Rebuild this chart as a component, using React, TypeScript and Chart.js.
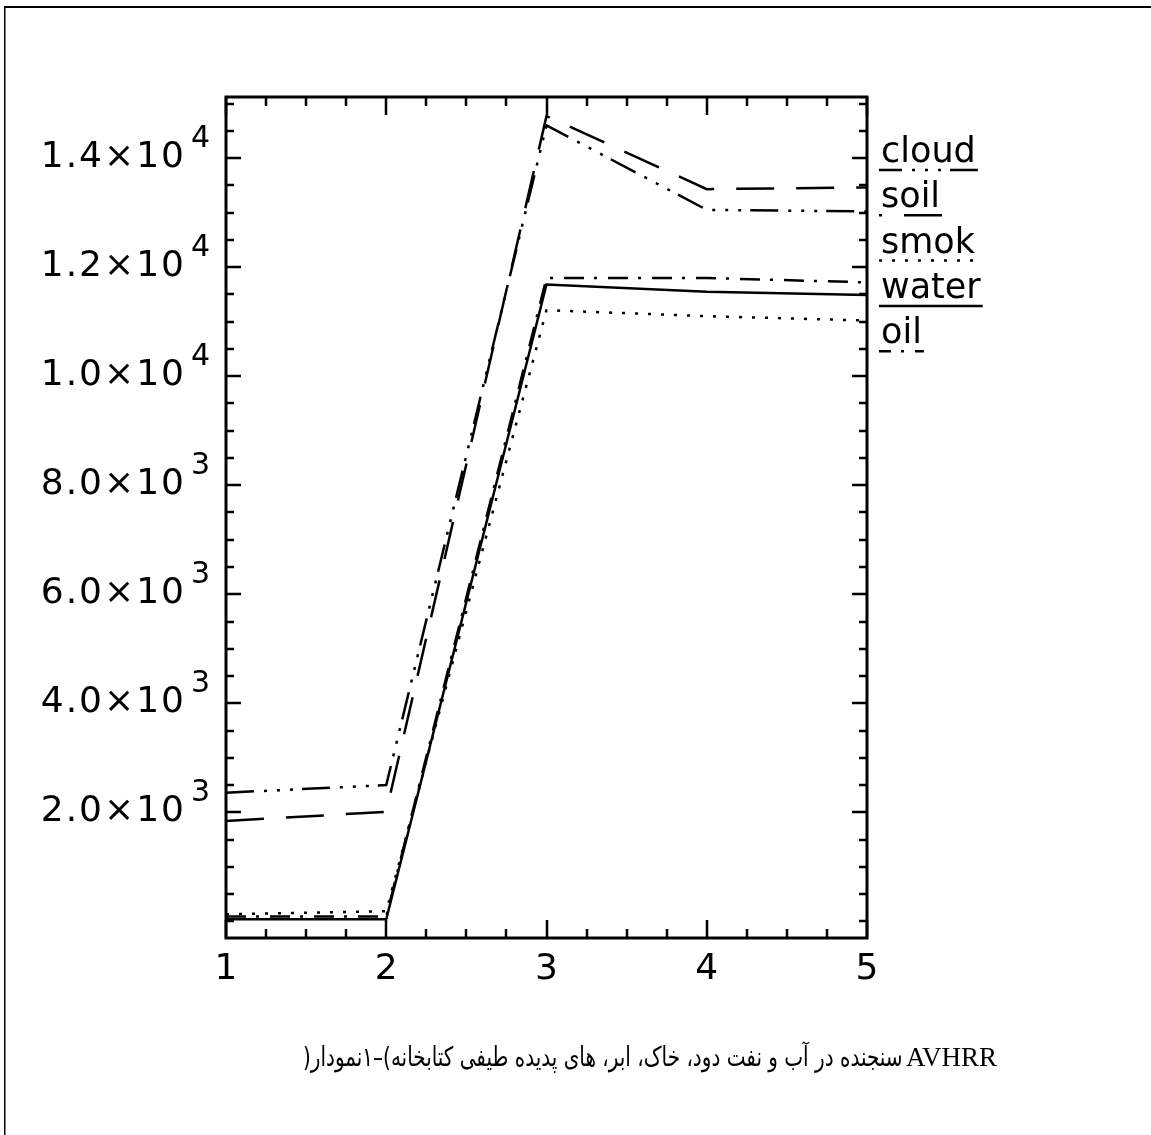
import React, { useEffect, useRef } from "react";
import { Chart, registerables } from "chart.js";

Chart.register(...registerables);

// ---------- data ----------
const xValues = [1, 2, 3, 4, 5];
const xTickLabels = ["1", "2", "3", "4", "5"];
const seriesNames = ["cloud", "soil", "smok", "water", "oil"];
const cloudValues = [2360, 2500, 14600, 13050, 13020];
const soilValues = [1840, 2010, 14770, 13430, 13460];
const smokValues = [130, 185, 11210, 11100, 11020];
const waterValues = [40, 40, 11680, 11550, 11490];
const oilValues = [90, 90, 11800, 11800, 11720];
const yLabelValues = [2000, 4000, 6000, 8000, 10000, 12000, 14000];
const yMin = -305;
const yMax = 15120;
const xMinorStep = 0.25;
const yMinorStep = 500;

const captionPersianChunks = [
  "(", "نمودار", "–۱", ")", "کتابخانه", " ", "طیفی", " ", "پدیده", " ", "های", " ",
  "ابر،", " ", "خاک،", " ", "دود،", " ", "نفت", " ", "و", " ", "آب", " ", "در", " ",
  "سنجنده",
];
const captionLatin = "AVHRR";

// ---------- styles ----------
const dashes: Record<string, number[]> = {
  cloud: [28, 10, 3, 10, 3, 10, 3, 9],
  soil: [38, 22],
  smok: [3, 10],
  water: [],
  oil: [20, 10, 3, 11],
};
const legendDashOffset: Record<string, number> = {
  cloud: 5,
  soil: 35,
  smok: 0,
  water: 0,
  oil: 8,
};
const seriesValues: Record<string, number[]> = {
  cloud: cloudValues,
  soil: soilValues,
  smok: smokValues,
  water: waterValues,
  oil: oilValues,
};

const W = 1151;
const H = 1135;
const FONT = '"DejaVu Sans", "Liberation Sans", sans-serif';

const decorPlugin = {
  id: "decor",
  beforeDraw(chart: any) {
    const ctx = chart.ctx as CanvasRenderingContext2D;
    ctx.save();
    ctx.fillStyle = "#fff";
    ctx.fillRect(0, 0, chart.width, chart.height);
    // document frame
    ctx.fillStyle = "#000";
    ctx.fillRect(4, 6, chart.width - 4, 2);
    ctx.fillRect(4, 6, 1.5, chart.height - 6);
    ctx.restore();
  },
  afterDatasetsDraw(chart: any) {
    const ctx = chart.ctx as CanvasRenderingContext2D;
    const a = chart.chartArea;
    const xs = chart.scales.x;
    const ys = chart.scales.y;
    ctx.save();
    ctx.strokeStyle = "#000";
    ctx.fillStyle = "#000";
    ctx.setLineDash([]);
    // plot frame
    ctx.lineWidth = 3;
    ctx.strokeRect(a.left, a.top, a.right - a.left, a.bottom - a.top);
    // x ticks (inward, bottom and top)
    ctx.lineWidth = 2.5;
    const xmin = xs.min, xmax = xs.max;
    for (let v = xmin; v <= xmax + 1e-9; v += xMinorStep) {
      const px = Math.round(xs.getPixelForValue(v));
      const major = Math.abs(v - Math.round(v)) < 1e-6;
      const len = major ? 18 : 9;
      ctx.beginPath();
      ctx.moveTo(px, a.bottom);
      ctx.lineTo(px, a.bottom - len);
      ctx.moveTo(px, a.top);
      ctx.lineTo(px, a.top + len);
      ctx.stroke();
    }
    // y ticks (inward, left and right)
    const yStart = Math.ceil(ys.min / yMinorStep) * yMinorStep;
    for (let v = yStart; v <= ys.max; v += yMinorStep) {
      const py = Math.round(ys.getPixelForValue(v));
      const major = yLabelValues.includes(v);
      const len = major ? 15 : 8;
      ctx.beginPath();
      ctx.moveTo(a.left, py);
      ctx.lineTo(a.left + len, py);
      ctx.moveTo(a.right, py);
      ctx.lineTo(a.right - len, py);
      ctx.stroke();
    }
    // y labels  m.m×10^e
    for (const v of yLabelValues) {
      const e = Math.floor(Math.log10(v));
      const m = (v / Math.pow(10, e)).toFixed(1);
      const py = ys.getPixelForValue(v);
      (ctx as any).letterSpacing = "2px";
      ctx.font = `36px ${FONT}`;
      ctx.textAlign = "right";
      ctx.textBaseline = "alphabetic";
      ctx.fillText(`${m}×10`, a.left - 40, py + 9);
      (ctx as any).letterSpacing = "0px";
      ctx.font = `30px ${FONT}`;
      ctx.textAlign = "left";
      ctx.fillText(String(e), a.left - 35, py - 11);
    }
    // x labels
    ctx.font = `36px ${FONT}`;
    ctx.textAlign = "center";
    xValues.forEach((v, i) => {
      ctx.fillText(xTickLabels[i], xs.getPixelForValue(v), a.bottom + 41);
    });
    // legend at right
    ctx.textAlign = "left";
    ctx.font = `35px ${FONT}`;
    chart.data.datasets.forEach((ds: any, i: number) => {
      const bx = a.right + 14;
      const by = a.top + 65 + i * 45.3;
      ctx.setLineDash([]);
      ctx.fillText(ds.label, bx, by);
      const w = ctx.measureText(ds.label).width;
      ctx.lineWidth = 2.5;
      ctx.setLineDash(ds.borderDash || []);
      ctx.lineDashOffset = legendDashOffset[ds.label] || 0;
      ctx.beginPath();
      ctx.moveTo(bx - 2, by + 8);
      ctx.lineTo(bx + w + 2, by + 8);
      ctx.stroke();
      ctx.lineDashOffset = 0;
    });
    ctx.restore();
  },
};

export default function App() {
  const canvasRef = useRef<HTMLCanvasElement | null>(null);

  useEffect(() => {
    const canvas = canvasRef.current;
    if (!canvas) return;
    const datasets = seriesNames.map((name) => ({
      label: name,
      data: xValues.map((x, i) => ({ x, y: seriesValues[name][i] })),
      borderColor: "#000",
      borderWidth: 2.5,
      borderDash: dashes[name],
      borderCapStyle: "butt" as const,
      pointRadius: 0,
      fill: false,
      tension: 0,
    }));
    const chart = new Chart(canvas, {
      type: "line",
      data: { datasets },
      options: {
        responsive: false,
        animation: false,
        events: [],
        layout: { padding: { left: 226, top: 97, right: W - 867, bottom: H - 938 } },
        plugins: { legend: { display: false }, tooltip: { enabled: false } },
        scales: {
          x: { type: "linear", min: 1, max: 5, display: false },
          y: { type: "linear", min: yMin, max: yMax, display: false },
        },
      },
      plugins: [decorPlugin],
    });
    return () => chart.destroy();
  }, []);

  return (
    <div style={{ position: "fixed", left: 0, top: 0, width: W, height: H, overflow: "hidden", background: "#fff" }}>
      <canvas ref={canvasRef} width={W} height={H} style={{ display: "block" }} />
      <div
        style={{
          position: "absolute",
          left: 303,
          top: 1041,
          direction: "ltr",
          whiteSpace: "nowrap",
          font: '27px "DejaVu Sans", sans-serif',
          color: "#000",
          transform: "scaleX(0.74)",
          transformOrigin: "0 0",
        }}
      >
        {captionPersianChunks.map((c, i) =>
          c === " " ? (
            <span key={i}> </span>
          ) : (
            <span key={i} style={{ display: "inline-block", direction: "rtl" }}>
              {c}
            </span>
          )
        )}
      </div>
      <div
        style={{
          position: "absolute",
          left: 906,
          top: 1042,
          whiteSpace: "nowrap",
          font: '27px "Liberation Serif", serif',
          color: "#000",
        }}
      >
        {captionLatin}
      </div>
    </div>
  );
}
